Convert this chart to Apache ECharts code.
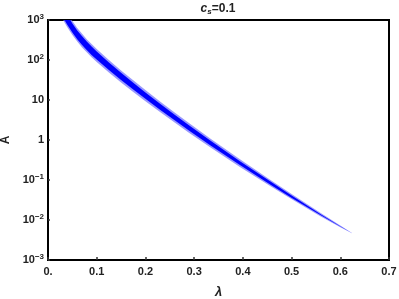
<!DOCTYPE html>
<html>
<head>
<meta charset="utf-8">
<script src="https://cdn.jsdelivr.net/npm/echarts@6/dist/echarts.min.js"></script>
<style>html,body{margin:0;padding:0;background:#fff}#c{width:399px;height:299px}</style>
</head>
<body>
<div id="c"></div>
<script>
// lambda positions along the band
const lambda = [0.030, 0.0396, 0.050, 0.060, 0.070, 0.080, 0.090, 0.100, 0.125, 0.150, 0.175, 0.200, 0.230, 0.260, 0.290, 0.333, 0.394, 0.456, 0.497, 0.559, 0.600, 0.624];
// log10(A) of the light outer band edges
const outerUpperLog = [3.38, 3.18, 2.975, 2.80, 2.655, 2.515, 2.391, 2.273, 2.00, 1.74, 1.492, 1.25, 0.963, 0.688, 0.418, 0.038, -0.482, -0.992, -1.327, -1.82, -2.138, -2.322];
const outerLowerLog = [3.02, 2.82, 2.625, 2.46, 2.315, 2.185, 2.061, 1.953, 1.69, 1.44, 1.202, 0.97, 0.703, 0.438, 0.178, -0.182, -0.672, -1.152, -1.457, -1.904, -2.182, -2.334];
// log10(A) of the dark inner core edges
const innerUpperLog = [3.32, 3.12, 2.915, 2.74, 2.595, 2.455, 2.331, 2.213, 1.94, 1.68, 1.432, 1.19, 0.908, 0.633, 0.363, -0.014, -0.529, -1.034, -1.362, -1.85, -2.157, -2.328];
const innerLowerLog = [3.08, 2.88, 2.685, 2.52, 2.375, 2.245, 2.121, 2.013, 1.75, 1.50, 1.262, 1.03, 0.758, 0.493, 0.233, -0.13, -0.625, -1.11, -1.422, -1.874, -2.163, -2.328];

const xTickLabels = ['0.', '0.1', '0.2', '0.3', '0.4', '0.5', '0.6', '0.7'];
const yTickLabels = ['10^-3', '10^-2', '10^-1', '1', '10', '10^2', '10^3'];

const FONT = 'Liberation Sans';

function bandSeries(upperLog, lowerLog, color) {
  return {
    type: 'custom',
    clip: true,
    silent: true,
    data: [[lambda[0], Math.pow(10, upperLog[0])]],
    renderItem: function (params, api) {
      const pts = [];
      for (let k = 0; k < lambda.length; k++) pts.push(api.coord([lambda[k], Math.pow(10, upperLog[k])]));
      for (let k = lambda.length - 1; k >= 0; k--) pts.push(api.coord([lambda[k], Math.pow(10, lowerLog[k])]));
      return { type: 'polygon', shape: { points: pts }, style: { fill: color, stroke: null } };
    }
  };
}

const chart = echarts.init(document.getElementById('c'), null, { renderer: 'canvas' });
chart.setOption({
  animation: false,
  backgroundColor: '#fff',
  title: {
    text: '{i|c}{sub|s}{n|=0.1}',
    left: 218, top: 1, padding: 0, textAlign: 'center',
    textStyle: {
      rich: {
        i: { fontFamily: FONT, fontSize: 12, fontWeight: 'bold', fontStyle: 'italic', color: '#222' },
        sub: { fontFamily: FONT, fontSize: 8, fontWeight: 'bold', fontStyle: 'italic', color: '#222', verticalAlign: 'bottom', padding: [7, 0, 0, 0] },
        n: { fontFamily: FONT, fontSize: 12, fontWeight: 'bold', color: '#222' }
      }
    }
  },
  grid: { left: 48, right: 10, top: 20, bottom: 39, outerBoundsMode: 'none', containLabel: false, show: true, borderColor: '#000', borderWidth: 2, backgroundColor: 'transparent' },
  xAxis: {
    type: 'value', min: 0, max: 0.7, interval: 0.1,
    name: 'λ', nameLocation: 'middle', nameGap: 26,
    nameTextStyle: { fontFamily: FONT, fontSize: 13, fontWeight: 'bold', fontStyle: 'italic', color: '#222' },
    axisLine: { show: true, onZero: false, lineStyle: { color: '#000', width: 2 } },
    axisTick: { show: true, inside: true, length: 3, lineStyle: { color: '#333', width: 1.5 } },
    splitLine: { show: false },
    axisLabel: {
      margin: 6, fontFamily: FONT, fontSize: 11, fontWeight: 'bold', color: '#222',
      formatter: function (v) { return xTickLabels[Math.round(v * 10)]; }
    }
  },
  yAxis: {
    type: 'log', logBase: 10, min: 0.001, max: 1000,
    name: 'A', nameLocation: 'middle', nameGap: 36, nameRotate: 90,
    nameTextStyle: { fontFamily: FONT, fontSize: 12, fontWeight: 'bold', color: '#222' },
    axisLine: { show: true, lineStyle: { color: '#000', width: 2 } },
    axisTick: { show: true, inside: true, length: 2, lineStyle: { color: '#333', width: 1.5 } },
    minorTick: { show: false },
    splitLine: { show: false },
    axisLabel: {
      margin: 4, fontFamily: FONT, fontSize: 11, fontWeight: 'bold', color: '#222',
      formatter: function (v) {
        const e = Math.round(Math.log10(v));
        const lab = yTickLabels[e + 3];
        if (lab.indexOf('^') < 0) return '{b|' + lab + '}';
        const parts = lab.split('^');
        return '{b|' + parts[0] + '}{s|' + parts[1].replace('-', '\u2212') + '}';
      },
      rich: {
        b: { fontFamily: FONT, fontSize: 11, fontWeight: 'bold', color: '#222' },
        s: { fontFamily: FONT, fontSize: 8, fontWeight: 'bold', color: '#222', verticalAlign: 'top', padding: [0, 0, 7, 0] }
      }
    }
  },
  series: [
    bandSeries(outerUpperLog, outerLowerLog, 'rgba(110,110,255,0.7)'),
    bandSeries(innerUpperLog, innerLowerLog, '#0000ff')
  ]
});
</script>
</body>
</html>
